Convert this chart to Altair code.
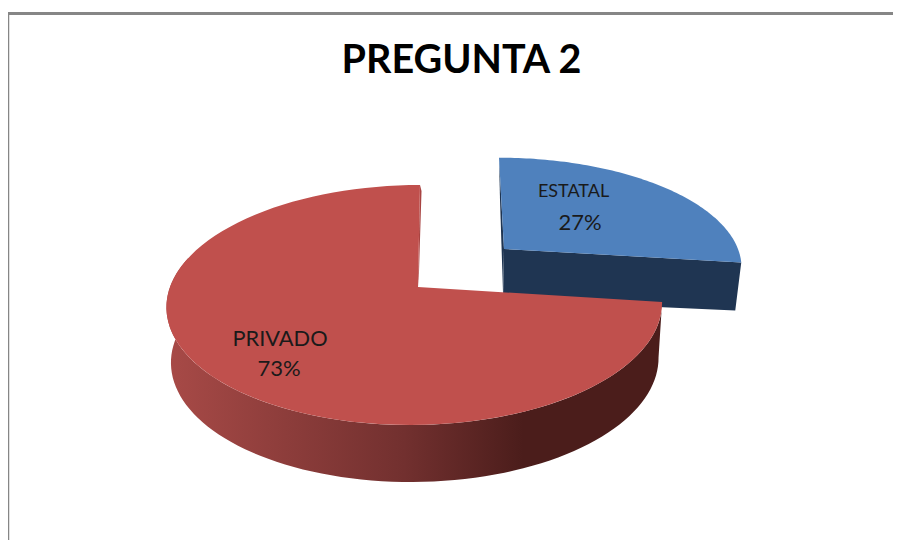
import numpy as np
import pandas as pd
import altair as alt

# ---- data
categories = ["ESTATAL", "PRIVADO"]
shares = [27, 73]
title_text = "PREGUNTA 2"

# ---- layout / perspective settings (page pixels)
W, H = 885, 532
X0, Y0 = 8, 8
KP = 0.15
FONT = "Lato"
RED, BLUE = "#c0504d", "#4f81bd"
BLUE_SIDE = "#1f3552"
RED_SIDE_LEFT, RED_SIDE_MID, RED_SIDE_DARK = "#a84a47", "#72302f", "#4b1d1b"
FRAME = "#868686"

cut = 360 * shares[0] / sum(shares)

sx = alt.Scale(domain=[X0, X0 + W], range=[0, W], nice=False, zero=False)
sy = alt.Scale(domain=[Y0, Y0 + H], range=[0, H], nice=False, zero=False)


def rim(t0, t1, ax, ay, a, b, sk=0.0, n=90):
    th = np.radians(np.linspace(t0, t1, n))
    xp, yp = np.sin(th), -np.cos(th)
    s = 1 / (1 - KP * yp)
    return list(ax + a * xp * s + sk * yp), list(ay + b * yp * s)


def poly(xs, ys, fill):
    df = pd.DataFrame({"x": xs, "y": ys, "i": range(len(xs))})
    return alt.Chart(df).mark_line(fill=fill, strokeWidth=0, interpolate="linear-closed").encode(
        x=alt.X("x:Q", scale=sx, axis=None),
        y=alt.Y("y:Q", scale=sy, axis=None),
        order="i:Q",
    )


def label(text, x, y, size):
    df = pd.DataFrame({"t": [text], "x": [x], "y": [y]})
    return alt.Chart(df).mark_text(
        font=FONT, fontSize=size, color="#1a1a1a", align="center", baseline="middle"
    ).encode(
        x=alt.X("x:Q", scale=sx, axis=None),
        y=alt.Y("y:Q", scale=sy, axis=None),
        text="t:N",
    )


# blue slice (exploded, drawn behind the red one)
bx, by = rim(0, cut, 504, 249, 234, 105, sk=5)
blue_side = poly([504, bx[-1], bx[-1] - 6, 503], [249, by[-1], by[-1] + 48, 300], BLUE_SIDE)
blue_wall = poly([bx[0], 504, 503, bx[0] + 1], [by[0], 249, 292, by[0] + 42], BLUE_SIDE)
blue_top = poly([504] + bx, [249] + by, BLUE)

# red slice
rx, ry = rim(cut, 360, 415, 287, 245, 117.3, sk=-5)
ox, oy = rim(cut, 285, 415.5, 342, 241, 119, sk=-5)
tx, ty = rim(cut, 285, 415, 287, 245, 117.3, sk=-5)
red_side = poly(ox + tx[::-1], oy + ty[::-1], alt.Gradient(
    gradient="linear", x1=0, x2=1, y1=0, y2=0,
    stops=[
        alt.GradientStop(color=RED_SIDE_LEFT, offset=0),
        alt.GradientStop(color=RED_SIDE_MID, offset=0.48),
        alt.GradientStop(color=RED_SIDE_DARK, offset=0.72),
        alt.GradientStop(color=RED_SIDE_DARK, offset=1),
    ]))
red_wall = poly([rx[-1], rx[-1] + 1.5, 419, 418], [ry[-1], ry[-1] + 6, 272, 287], "#a84442")
red_top = poly([418] + rx, [287] + ry, RED)

# frame of the chart area
frame_top = alt.Chart(pd.DataFrame({"x": [X0], "x2": [X0 + W], "y": [13.5]})).mark_rule(
    color=FRAME, strokeWidth=3).encode(
    x=alt.X("x:Q", scale=sx, axis=None), x2="x2:Q", y=alt.Y("y:Q", scale=sy, axis=None))
frame_left = alt.Chart(pd.DataFrame({"x": [8.5], "y": [12], "y2": [Y0 + H]})).mark_rule(
    color=FRAME, strokeWidth=1.5).encode(
    x=alt.X("x:Q", scale=sx, axis=None), y=alt.Y("y:Q", scale=sy, axis=None), y2="y2:Q")

# slice labels
labels = [
    label(categories[0], 573.5, 192, 18),
    label(f"{shares[0]}%", 580, 223, 22),
    label(categories[1], 280, 339, 21.8),
    label(f"{shares[1]}%", 279, 369, 22),
]

chart = alt.layer(
    frame_top, frame_left,
    blue_wall, blue_side, blue_top,
    red_side, red_wall, red_top,
    *labels,
).properties(
    width=W, height=H, padding=0, autosize=alt.AutoSizeParams(type="none"),
    title=alt.TitleParams(title_text, font=FONT, fontSize=39.5, fontWeight="bold", color="#000000",
                          anchor="middle", dx=11, offset=-104, baseline="alphabetic"),
).configure_view(stroke=None)

chart.save("out.html", embed_options={"renderer": "svg", "actions": False})
